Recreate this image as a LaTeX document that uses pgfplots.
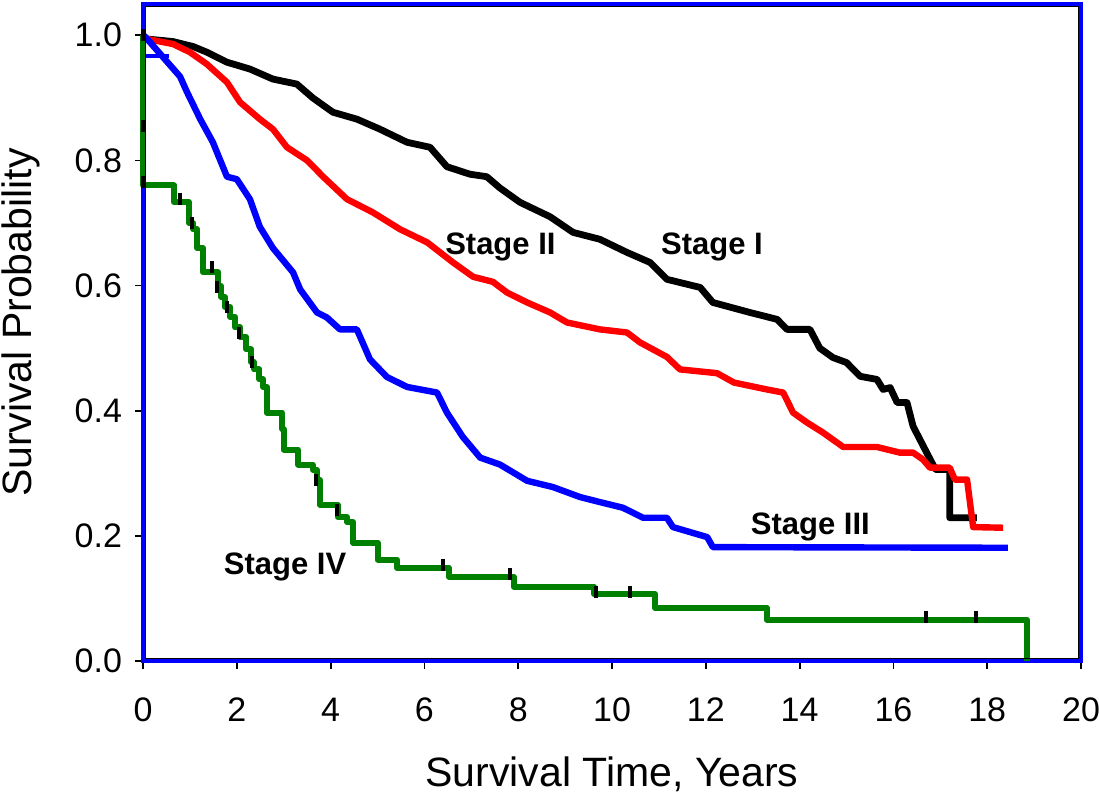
\documentclass[border=0pt]{standalone}
\usepackage{pgfplots}
\pgfplotsset{compat=1.18}
\usepackage{fontspec}
\setmainfont{Liberation Sans}
\definecolor{kmgreen}{RGB}{0,128,0}

\begin{document}
\begin{tikzpicture}
\begin{axis}[name=ax,scale only axis,width=469pt,height=328.5pt,
  xmin=0,xmax=20,ymin=0,ymax=1.05,clip=false,
  xtick={0,2,...,20},ytick={0,0.2,...,1.0},
  /pgf/number format/assume math mode=true,
  yticklabel style={/pgf/number format/fixed,/pgf/number format/fixed zerofill,/pgf/number format/precision=1,xshift=-3pt},
  tick label style={font=\fontsize{17}{20}\selectfont,black},
  xticklabel style={yshift=-11pt},
  tick align=outside,xtick pos=bottom,ytick pos=left,
  major tick length=4pt,tick style={black,line width=0.9pt},
  axis line style={blue,line width=1.6pt},
  xlabel={Survival Time, Years},ylabel={Survival Probability},
  label style={font=\fontsize{20.5}{24}\selectfont},
  xlabel style={at={(axis description cs:0.5,-0.172)},anchor=center},
  ylabel style={at={(axis description cs:-0.130,0.515)},anchor=center},
  every axis plot/.append style={line join=round},
]
% Stage I
\addplot[black,line width=3.4pt] coordinates {(0,1.0)(0.09,0.994)(0.64,0.99)(1.07,0.982)(1.36,0.973)(1.79,0.957)(2.28,0.946)(2.77,0.93)(3.28,0.922)(3.62,0.90)(4.05,0.877)(4.56,0.866)(5.05,0.85)(5.63,0.829)(6.12,0.821)(6.48,0.79)(6.97,0.778)(7.33,0.774)(7.61,0.756)(8.04,0.733)(8.68,0.71)(9.17,0.685)(9.74,0.674)(10.32,0.653)(10.81,0.637)(11.17,0.61)(11.88,0.597)(12.15,0.573)(12.94,0.557)(13.52,0.546)(13.73,0.53)(14.22,0.53)(14.43,0.50)(14.71,0.485)(15.0,0.477)(15.29,0.455)(15.65,0.45)(15.78,0.434)(15.93,0.437)(16.08,0.413)(16.29,0.413)(16.42,0.375)(16.82,0.317)(16.9,0.306)(17.2,0.306)(17.2,0.229)(17.78,0.229)};
% Stage II
\addplot[red,line width=3.2pt] coordinates {(0,1.0)(0.09,0.994)(0.64,0.986)(1.0,0.973)(1.36,0.954)(1.79,0.925)(2.07,0.893)(2.49,0.866)(2.77,0.85)(3.07,0.821)(3.5,0.80)(3.84,0.774)(4.35,0.738)(4.9,0.717)(5.48,0.69)(6.06,0.669)(6.61,0.637)(7.04,0.614)(7.46,0.606)(7.76,0.589)(8.19,0.573)(8.68,0.557)(9.04,0.541)(9.74,0.53)(10.32,0.525)(10.6,0.509)(11.17,0.486)(11.45,0.466)(12.24,0.46)(12.6,0.445)(13.3,0.434)(13.65,0.429)(13.86,0.397)(14.16,0.381)(14.5,0.365)(14.93,0.342)(15.65,0.342)(16.14,0.333)(16.42,0.333)(16.63,0.322)(16.78,0.309)(17.2,0.309)(17.31,0.29)(17.57,0.29)(17.7,0.214)(18.34,0.213)};
% Stage III
\addplot[blue,line width=3.2pt] coordinates {(0,1.0)(0.09,0.994)(0.79,0.934)(0.94,0.909)(1.22,0.866)(1.49,0.829)(1.79,0.774)(2.0,0.77)(2.28,0.738)(2.49,0.694)(2.77,0.66)(3.2,0.621)(3.35,0.594)(3.71,0.557)(3.92,0.549)(4.2,0.53)(4.56,0.53)(4.84,0.482)(5.2,0.454)(5.63,0.438)(6.27,0.429)(6.48,0.397)(6.82,0.358)(7.19,0.325)(7.61,0.314)(8.19,0.288)(8.74,0.278)(9.32,0.262)(9.74,0.254)(10.23,0.245)(10.66,0.229)(11.17,0.229)(11.3,0.214)(12.03,0.198)(12.15,0.182)(18.44,0.181)};
\addplot[blue,line width=2pt] coordinates {(0,0.967)(0.55,0.967)};
% Stage IV
\addplot[kmgreen,line width=3pt,const plot] coordinates {(0,1.0)(0,0.76)(0.66,0.733)(0.98,0.70)(1.07,0.69)(1.15,0.66)(1.28,0.621)(1.6,0.60)(1.66,0.582)(1.74,0.566)(1.86,0.55)(1.96,0.533)(2.07,0.518)(2.2,0.498)(2.3,0.478)(2.36,0.466)(2.48,0.45)(2.56,0.438)(2.64,0.397)(2.97,0.37)(3.0,0.338)(3.31,0.314)(3.62,0.306)(3.7,0.29)(3.77,0.25)(4.15,0.23)(4.35,0.222)(4.48,0.189)(5.0,0.162)(5.42,0.149)(6.52,0.135)(7.9,0.119)(9.62,0.107)(10.92,0.085)(13.3,0.066)(18.85,0.0)};
% censored
\addplot[black,only marks,mark=|,mark size=3pt,mark options={line width=1.8pt}] coordinates {(0,1.0)(0,0.855)(0,0.765)(0.79,0.738)(1.04,0.70)(1.47,0.629)(1.58,0.598)(1.79,0.566)(2.05,0.525)(2.32,0.478)(3.69,0.29)(4.14,0.242)(6.4,0.153)(7.83,0.139)(9.66,0.111)(10.38,0.111)(16.7,0.07)(17.76,0.07)};
\node[font=\bfseries\fontsize{15.5}{18}\selectfont,anchor=base] at (axis cs:12.13,0.65) {Stage I};
\node[font=\bfseries\fontsize{15.5}{18}\selectfont,anchor=base] at (axis cs:7.62,0.65) {Stage II};
\node[font=\bfseries\fontsize{15.5}{18}\selectfont,anchor=base] at (axis cs:14.23,0.2016) {Stage III};
\node[font=\bfseries\fontsize{15.5}{18}\selectfont,anchor=base] at (axis cs:3.03,0.1376) {Stage IV};
\draw[black,line width=0.6pt] ([shift={(1.1pt,1.1pt)}]rel axis cs:0,0) rectangle ([shift={(-1.1pt,-1.1pt)}]rel axis cs:1,1);
\end{axis}
\pgfresetboundingbox
\path ([shift={(-71.5pt,-66pt)}]ax.south west) rectangle ([shift={(9pt,2pt)}]ax.north east);
\end{tikzpicture}
\end{document}
